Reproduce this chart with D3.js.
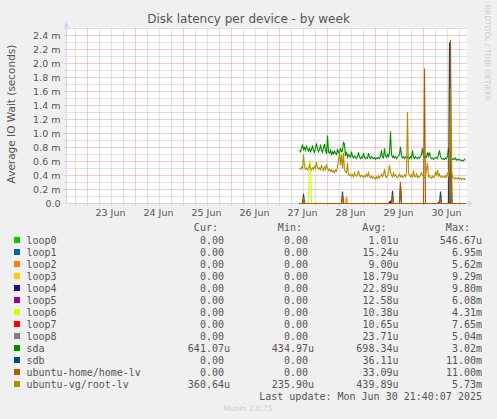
<!DOCTYPE html>
<html>
<head>
<meta charset="utf-8">
<script src="https://cdn.jsdelivr.net/npm/d3@7"></script>
<style>
    body { margin: 0; background: #F0F0F0; }
    svg text { font-family: "DejaVu Sans", sans-serif; fill: #555; }
    .legend text { font-family: "DejaVu Sans Mono", monospace; font-size: 10px; }
</style>
</head>
<body>
<div id="chart"></div>
<script>

// --- data (values in milliseconds, 30 min steps from 27 Jun 10:30) ---
const seriesNames = ["loop0", "loop1", "loop2", "loop3", "loop4", "loop5", "loop6", "loop7", "loop8",
    "sda", "sdb", "ubuntu-home/home-lv", "ubuntu-vg/root-lv"];
const seriesColors = ["#00CC00", "#0066B3", "#FF8000", "#FFCC00", "#330099", "#990099", "#CCFF00", "#FF0000",
    "#808080", "#008F00", "#00487D", "#B35A00", "#B38F00"];

const curValues = ["0.00", "0.00", "0.00", "0.00", "0.00", "0.00", "0.00", "0.00", "0.00", "641.07u", "0.00", "0.00", "360.64u"];
const minValues = ["0.00", "0.00", "0.00", "0.00", "0.00", "0.00", "0.00", "0.00", "0.00", "434.97u", "0.00", "0.00", "235.90u"];
const avgValues = ["1.01u", "15.24u", "9.00u", "18.79u", "22.89u", "12.58u", "10.38u", "10.65u", "23.71u", "698.34u", "36.11u", "33.09u", "439.89u"];
const maxValues = ["546.67u", "6.95m", "5.62m", "9.29m", "9.80m", "6.08m", "4.31m", "7.65m", "5.04m", "3.02m", "11.00m", "11.00m", "5.73m"];

const yTicks = [0, 0.2, 0.4, 0.6, 0.8, 1.0, 1.2, 1.4, 1.6, 1.8, 2.0, 2.2, 2.4];
const dayLabels = ["23 Jun", "24 Jun", "25 Jun", "26 Jun", "27 Jun", "28 Jun", "29 Jun", "30 Jun"];

const sdaValues = [
    0.76, 0.74, 0.79, 0.84, 0.77, 0.80, 0.76, 0.82, 0.78, 0.75,
    0.79, 0.74, 0.77, 0.83, 0.76, 0.73, 0.80, 0.86, 0.78, 0.74,
    0.77, 0.84, 0.76, 0.73, 0.80, 0.85, 0.76, 0.71, 0.97, 0.74,
    0.72, 0.76, 0.70, 0.74, 0.71, 0.75, 0.72, 0.70, 0.78, 0.73,
    0.71, 0.79, 0.74, 0.75, 0.88, 0.84, 0.68, 0.74, 0.66, 0.70,
    0.68, 0.66, 0.74, 0.67, 0.65, 0.68, 0.66, 0.64, 0.67, 0.73,
    0.66, 0.64, 0.67, 0.65, 0.72, 0.66, 0.64, 0.66, 0.65, 0.72,
    0.66, 0.64, 0.67, 0.65, 0.64, 0.66, 0.63, 0.65, 0.64, 0.66,
    0.64, 0.67, 0.76, 0.66, 0.65, 0.79, 0.68, 0.66, 0.70, 0.67,
    0.72, 1.03, 0.70, 0.66, 0.68, 0.65, 0.67, 0.64, 0.66, 0.68,
    0.70, 0.81, 0.68, 0.65, 0.67, 0.64, 0.66, 0.68, 0.65, 0.66,
    0.64, 0.67, 0.65, 0.76, 0.66, 0.64, 0.67, 0.65, 0.64, 0.66,
    0.65, 0.67, 0.70, 0.79, 0.68, 0.65, 0.67, 0.66, 0.73, 0.68,
    0.73, 0.66, 0.64, 0.65, 0.63, 0.64, 0.66, 0.65, 0.64, 0.70,
    0.76, 0.67, 0.64, 0.63, 0.64, 0.63, 0.65, 0.64, 0.68, 0.79,
    0.70, 0.65, 0.64, 0.63, 0.64, 0.63, 0.65, 0.62, 0.63, 0.62,
    0.63, 0.62, 0.61, 0.62, 0.61, 0.63, 0.64
];

const rootLvValues = [
    0.50, 0.49, 0.52, 0.50, 0.70, 0.53, 0.49, 0.51, 0.48, 0.50,
    0.55, 0.50, 0.48, 0.51, 0.49, 0.53, 0.50, 0.59, 0.52, 0.49,
    0.51, 0.48, 0.55, 0.50, 0.47, 0.52, 0.49, 0.56, 0.50, 0.47,
    0.49, 0.46, 0.48, 0.45, 0.47, 0.44, 0.48, 0.46, 0.52, 0.62,
    0.73, 0.55, 0.70, 0.50, 0.72, 0.48, 0.45, 0.44, 0.58, 0.41,
    0.40, 0.42, 0.39, 0.41, 0.38, 0.44, 0.40, 0.39, 0.41, 0.47,
    0.40, 0.38, 0.41, 0.39, 0.37, 0.40, 0.38, 0.42, 0.39, 0.44,
    0.38, 0.37, 0.39, 0.36, 0.38, 0.37, 0.35, 0.38, 0.36, 0.39,
    0.37, 0.39, 0.42, 0.38, 0.41, 0.49, 0.39, 0.37, 0.40, 0.43,
    0.55, 0.45, 0.40, 0.38, 0.44, 0.39, 0.41, 0.38, 0.37, 0.40,
    0.42, 0.38, 0.40, 0.37, 0.39, 0.41, 0.38, 0.45, 1.31, 0.44,
    0.40, 0.38, 0.41, 0.37, 0.47, 0.39, 0.38, 0.42, 0.37, 0.39,
    0.38, 0.41, 0.44, 0.40, 0.38, 0.37, 0.39, 0.49, 0.58, 0.38,
    0.40, 0.37, 0.36, 0.39, 0.37, 0.38, 0.45, 0.40, 0.48, 0.39,
    0.42, 0.38, 0.37, 0.39, 0.38, 0.37, 0.40, 0.38, 0.43, 0.40,
    0.55, 1.65, 0.45, 0.38, 0.36, 0.35, 0.37, 0.36, 0.35, 0.37,
    0.35, 0.36, 0.34, 0.35, 0.36, 0.34, 0.36
];

// sparse series: [step index, value], zero between the listed points
const loop0Points = [[0, 0], [166, 0]];
const loop1Points = [[0, 0], [149, 0], [150, 0.40], [151, 0], [166, 0]];
const loop2Points = [[0, 0], [3, 0], [4, 0.05], [5, 0], [46, 0], [47, 0.10], [48, 0], [166, 0]];
const loop3Points = [[0, 0], [150, 0], [151, 0.60], [152, 1.10], [153, 0], [166, 0]];
const loop4Points = [[0, 0], [90, 0], [91, 0.03], [92, 0], [166, 0]];
const loop5Points = [[0, 0], [89, 0], [90, 0.02], [91, 0], [138, 0], [139, 0.02], [140, 0], [166, 0]];
const loop6Points = [[0, 0], [9, 0], [10, 0.61], [11, 0.60], [12, 0], [166, 0]];
const loop7Points = [[0, 0], [89, 0], [90, 0.02], [91, 0], [166, 0]];
const loop8Points = [[0, 0], [150, 0], [151, 1.90], [152, 0.30], [153, 0], [166, 0]];
const sdbPoints = [[0, 0], [3, 0], [4, 0.14], [5, 0], [42, 0], [43, 0.17], [44, 0], [92, 0], [93, 0.18], [94, 0],
    [100, 0], [101, 0.25], [102, 0], [140, 0], [141, 0.17], [142, 0], [149, 0], [150, 2.30], [151, 0.50], [152, 0], [166, 0]];
const homeLvPoints = [[0, 0], [3, 0], [4, 0.09], [5, 0], [42, 0], [43, 0.12], [44, 0], [92, 0], [93, 0.12], [94, 0],
    [100, 0], [101, 0.31], [102, 0], [124, 0], [125, 1.93], [126, 0], [140, 0], [141, 0.08], [142, 0],
    [150, 0], [151, 2.34], [152, 0], [166, 0]];

const dataStart = Date.UTC(2025, 5, 27, 10, 30);
const stepMs = 30 * 60 * 1000;


class LatencyVis {

    constructor(parentElement) {
        this.parentElement = parentElement;
        this.initVis();
    }

    initVis() {
        let vis = this;

        vis.width = 497;
        vis.height = 419;
        vis.plot = {left: 66.5, right: 467, top: 28.5, bottom: 203.5};

        vis.svg = d3.select("#" + vis.parentElement).append("svg")
            .attr("width", vis.width)
            .attr("height", vis.height);

        vis.svg.append("rect")
            .attr("width", vis.width)
            .attr("height", vis.height)
            .attr("fill", "#F0F0F0");

        vis.x = d3.scaleUtc()
            .domain([new Date(Date.UTC(2025, 5, 22, 14, 0)), new Date(Date.UTC(2025, 5, 30, 22, 15))])
            .range([vis.plot.left, vis.plot.right]);

        vis.y = d3.scaleLinear()
            .domain([0, 2.5])
            .range([vis.plot.bottom, vis.plot.top]);

        vis.wrangleData();
    }

    wrangleData() {
        let vis = this;

        let dense = values => values.map((v, i) => ({t: new Date(dataStart + i * stepMs), v: v}));
        let sparse = pts => pts.map(p => ({t: new Date(dataStart + p[0] * stepMs), v: p[1]}));

        let lookup = {
            "loop0": sparse(loop0Points), "loop1": sparse(loop1Points), "loop2": sparse(loop2Points),
            "loop3": sparse(loop3Points), "loop4": sparse(loop4Points), "loop5": sparse(loop5Points),
            "loop6": sparse(loop6Points), "loop7": sparse(loop7Points), "loop8": sparse(loop8Points),
            "sda": dense(sdaValues), "sdb": sparse(sdbPoints),
            "ubuntu-home/home-lv": sparse(homeLvPoints), "ubuntu-vg/root-lv": dense(rootLvValues)
        };

        vis.displayData = seriesNames.map((name, i) => ({
            name: name,
            color: seriesColors[i],
            values: lookup[name],
            cur: curValues[i], min: minValues[i], avg: avgValues[i], max: maxValues[i]
        }));

        vis.updateVis();
    }

    updateVis() {
        let vis = this;
        let p = vis.plot;

        // canvas
        vis.svg.append("rect")
            .attr("x", p.left).attr("y", p.top)
            .attr("width", p.right - p.left).attr("height", p.bottom - p.top)
            .attr("fill", "#FFFFFF");

        // minor grid
        let minorY = d3.range(1, 25).map(d => d / 10);
        vis.svg.append("g").selectAll("line")
            .data(minorY.filter(d => Math.round(d * 10) % 2 === 1).concat([2.5]))
            .enter().append("line")
            .attr("x1", p.left - 2).attr("x2", p.right)
            .attr("y1", d => vis.y(d)).attr("y2", d => vis.y(d))
            .attr("stroke", "#C4C4C4").attr("stroke-dasharray", "1,1");

        let sixHours = d3.utcHour.every(6).range(vis.x.domain()[0], vis.x.domain()[1])
            .filter(d => d.getUTCHours() !== 0);
        vis.svg.append("g").selectAll("line")
            .data(sixHours)
            .enter().append("line")
            .attr("x1", d => Math.round(vis.x(d)) + 0.5).attr("x2", d => Math.round(vis.x(d)) + 0.5)
            .attr("y1", p.top).attr("y2", p.bottom + 2)
            .attr("stroke", "#C4C4C4").attr("stroke-dasharray", "1,1");

        // major grid
        vis.svg.append("g").selectAll("line")
            .data(yTicks.slice(1))
            .enter().append("line")
            .attr("x1", p.left - 2).attr("x2", p.right)
            .attr("y1", d => vis.y(d)).attr("y2", d => vis.y(d))
            .attr("stroke", "#EE9494").attr("stroke-dasharray", "1,1");

        let days = d3.utcDay.range(vis.x.domain()[0], vis.x.domain()[1]);
        vis.svg.append("g").selectAll("line")
            .data(days)
            .enter().append("line")
            .attr("x1", d => Math.round(vis.x(d)) + 0.5).attr("x2", d => Math.round(vis.x(d)) + 0.5)
            .attr("y1", p.top).attr("y2", p.bottom + 2)
            .attr("stroke", "#EE9494").attr("stroke-dasharray", "1,1");

        // axes
        vis.svg.append("line")
            .attr("x1", p.left).attr("x2", p.right + 2)
            .attr("y1", p.bottom).attr("y2", p.bottom)
            .attr("stroke", "#CFD6F8");
        vis.svg.append("line")
            .attr("x1", p.left).attr("x2", p.left)
            .attr("y1", p.bottom).attr("y2", p.top - 4)
            .attr("stroke", "#CFD6F8");
        vis.svg.append("path")
            .attr("d", `M${p.right + 1},${p.bottom - 3} L${p.right + 6},${p.bottom} L${p.right + 1},${p.bottom + 3} Z`)
            .attr("fill", "#CFD6F8");
        vis.svg.append("path")
            .attr("d", `M${p.left - 3},${p.top - 1} L${p.left},${p.top - 7} L${p.left + 3},${p.top - 1} Z`)
            .attr("fill", "#CFD6F8");

        // tick labels
        vis.svg.append("g").selectAll("text")
            .data(yTicks)
            .enter().append("text")
            .attr("x", 60.5)
            .attr("y", d => vis.y(d))
            .attr("dy", "0.36em")
            .attr("text-anchor", "end")
            .attr("font-size", "9.5px")
            .text(d => d === 0 ? "0.0" : d3.format(".1f")(d) + " m");

        vis.svg.append("g").selectAll("text")
            .data(days.slice(0, dayLabels.length))
            .enter().append("text")
            .attr("x", d => vis.x(d3.utcHour.offset(d, 12)))
            .attr("y", 216)
            .attr("text-anchor", "middle")
            .attr("font-size", "9.5px")
            .text((d, i) => dayLabels[i]);

        // series lines
        let line = d3.line()
            .x(d => vis.x(d.t))
            .y(d => vis.y(d.v));

        vis.svg.append("g").selectAll("path")
            .data(vis.displayData)
            .enter().append("path")
            .attr("d", d => line(d.values))
            .attr("fill", "none")
            .attr("stroke", d => d.color)
            .attr("stroke-width", 1.1);

        // titles
        vis.svg.append("text")
            .attr("x", 248.5).attr("y", 23)
            .attr("text-anchor", "middle")
            .attr("font-size", "12px")
            .text("Disk latency per device - by week");

        vis.svg.append("text")
            .attr("transform", "translate(14.5, 114) rotate(-90)")
            .attr("text-anchor", "middle")
            .attr("font-size", "10.5px")
            .text("Average IO Wait (seconds)");

        vis.svg.append("text")
            .attr("transform", "translate(485, 53) rotate(90)")
            .attr("text-anchor", "middle")
            .attr("font-size", "7.5px")
            .style("fill", "#CCCCCC")
            .text("RRDTOOL / TOBI OETIKER");

        // legend
        let legend = vis.svg.append("g").attr("class", "legend");
        let colRight = [230, 314, 398.5, 482];
        let charW = 6.02;

        ["Cur:", "Min:", "Avg:", "Max:"].forEach((h, i) => {
            legend.append("text")
                .attr("x", colRight[i] - 2 * charW)
                .attr("y", 231)
                .attr("text-anchor", "end")
                .text(h);
        });

        let rows = legend.selectAll(".row")
            .data(vis.displayData)
            .enter().append("g")
            .attr("class", "row")
            .attr("transform", (d, i) => `translate(0, ${243.5 + i * 12})`);

        rows.append("rect")
            .attr("x", 14).attr("y", -6.5)
            .attr("width", 6).attr("height", 6)
            .attr("fill", d => d.color);

        rows.append("text")
            .attr("x", 26.5)
            .text(d => d.name);

        let valueX = (s, i) => /[a-z]$/.test(s) ? colRight[i] : colRight[i] - charW;
        ["cur", "min", "avg", "max"].forEach((key, i) => {
            rows.append("text")
                .attr("x", d => valueX(d[key], i))
                .attr("text-anchor", "end")
                .text(d => d[key]);
        });

        legend.append("text")
            .attr("x", 482)
            .attr("y", 399.5)
            .attr("text-anchor", "end")
            .text("Last update: Mon Jun 30 21:40:07 2025");

        vis.svg.append("text")
            .attr("x", 248).attr("y", 411)
            .attr("text-anchor", "middle")
            .attr("font-size", "7.5px")
            .style("fill", "#CCCCCC")
            .text("Munin 2.0.75");
    }
}

new LatencyVis("chart");
</script>
</body>
</html>
